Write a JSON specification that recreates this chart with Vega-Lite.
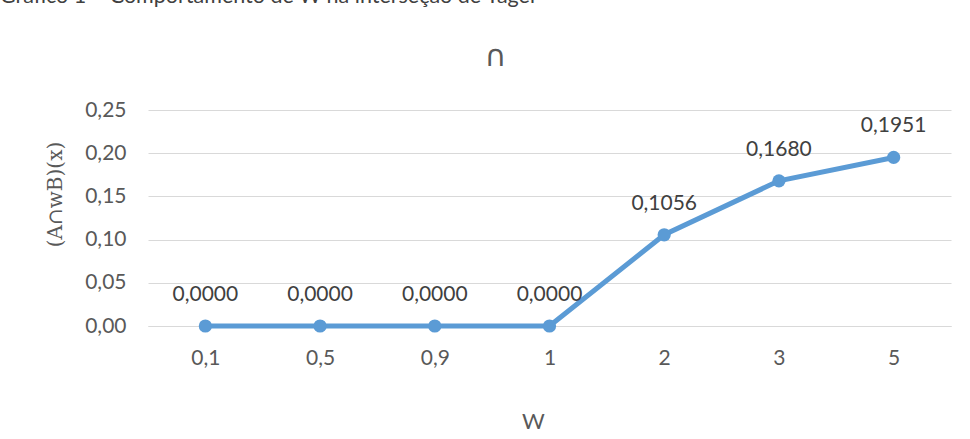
{
  "$schema": "https://vega.github.io/schema/vega-lite/v6.json",
  "width": 803,
  "height": 216,
  "autosize": "none",
  "padding": {"left": 148, "top": 110, "right": 19, "bottom": 113},
  "background": "white",
  "title": {
    "text": "Gráfico 1 – Comportamento de W na interseção de Yager",
    "anchor": "start",
    "frame": "group",
    "orient": "top",
    "font": "Lato",
    "fontSize": 21.5,
    "fontWeight": "normal",
    "color": "#404040",
    "offset": 0,
    "dx": -148,
    "dy": -34
  },
  "config": {
    "font": "Lato",
    "view": {"stroke": null},
    "locale": {"number": {"decimal": ",", "thousands": ".", "grouping": [3], "currency": ["", ""]}}
  },
  "data": {
    "values": [
      {"W": "0,1", "v": 0.0},
      {"W": "0,5", "v": 0.0},
      {"W": "0,9", "v": 0.0},
      {"W": "1", "v": 0.0},
      {"W": "2", "v": 0.1056},
      {"W": "3", "v": 0.168},
      {"W": "5", "v": 0.1951}
    ]
  },
  "encoding": {
    "y": {
      "field": "v",
      "type": "quantitative",
      "scale": {"domain": [0, 0.25], "nice": false},
      "axis": {
        "values": [0, 0.05, 0.1, 0.15, 0.2, 0.25],
        "format": ".2f",
        "domain": false,
        "ticks": false,
        "grid": true,
        "gridColor": "#d9d9d9",
        "gridWidth": 1,
        "labelFont": "Lato",
        "labelFontSize": 21,
        "labelColor": "#595959",
        "labelPadding": 22,
        "title": "(A∩wB)(x)",
        "titleFont": "DejaVu Serif",
        "titleFontSize": 20,
        "titleFontWeight": "normal",
        "titleColor": "#595959",
        "titleAngle": -90,
        "titleAlign": "center",
        "titleBaseline": "alphabetic",
        "titleX": -87,
        "titleY": 84
      }
    }
  },
  "layer": [
    {
      "mark": {"type": "line", "color": "#5b9bd5", "strokeWidth": 5},
      "encoding": {
        "x": {
          "field": "W",
          "type": "ordinal",
          "sort": null,
          "scale": {"type": "point", "padding": 0.5},
          "axis": {
            "orient": "bottom",
            "labelAngle": 0,
            "ticks": false,
            "domain": true,
            "domainColor": "#d9d9d9",
            "domainWidth": 1,
            "grid": false,
            "labelFont": "Lato",
            "labelFontSize": 21,
            "labelColor": "#595959",
            "labelPadding": 21,
            "title": "W",
            "titleFont": "Lato",
            "titleFontSize": 22,
            "titleFontWeight": "normal",
            "titleColor": "#595959",
            "titleBaseline": "alphabetic",
            "titleAlign": "center",
            "titleX": 385,
            "titleY": 102
          }
        }
      }
    },
    {
      "mark": {"type": "point", "filled": true, "opacity": 1, "color": "#5b9bd5", "size": 175},
      "encoding": {
        "x": {"field": "W", "type": "ordinal", "sort": null, "axis": null}
      }
    },
    {
      "mark": {"type": "text", "dy": -31, "fontSize": 21, "color": "#404040", "baseline": "middle", "font": "Lato"},
      "encoding": {
        "x": {
          "field": "W",
          "type": "ordinal",
          "sort": null,
          "axis": {
            "orient": "top",
            "labels": false,
            "ticks": false,
            "domain": false,
            "grid": false,
            "title": "∩",
            "titleFont": "DejaVu Sans",
            "titleFontSize": 30,
            "titleFontWeight": "normal",
            "titleColor": "#595959",
            "titleBaseline": "alphabetic",
            "titleAlign": "center",
            "titleX": 347,
            "titleY": -45
          }
        },
        "text": {"field": "v", "type": "quantitative", "format": ".4f"}
      }
    }
  ],
  "resolve": {"axis": {"x": "independent"}}
}
